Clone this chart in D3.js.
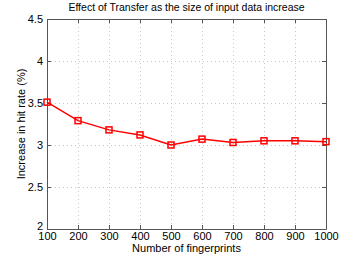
<!DOCTYPE html>
<html>
<head>
<meta charset="utf-8">
<script src="https://cdn.jsdelivr.net/npm/d3@7"></script>
<style>
  body { margin: 0; background: #fff; }
  text { font-family: "Liberation Sans", Arial, sans-serif; fill: #000; }
</style>
</head>
<body>
<svg width="360" height="258"></svg>
<script>
// data
var sizes = [100, 200, 300, 400, 500, 600, 700, 800, 900, 1000];
var hitRate = [3.51, 3.29, 3.18, 3.12, 3.00, 3.07, 3.03, 3.05, 3.05, 3.04];
var yTicks = [2, 2.5, 3, 3.5, 4, 4.5];
var xTicks = [100, 200, 300, 400, 500, 600, 700, 800, 900, 1000];

var margin = {top: 19, right: 34, bottom: 29, left: 47};
var width = 360 - margin.left - margin.right;
var height = 258 - margin.top - margin.bottom;

var svg = d3.select("svg");
var g = svg.append("g")
  .attr("transform", "translate(" + margin.left + "," + margin.top + ")");

var xScale = d3.scaleLinear().domain([100, 1000]).range([0, width]);
var yScale = d3.scaleLinear().domain([2, 4.5]).range([height, 0]);

// dotted grid
g.selectAll(".gx").data(xTicks.slice(1, -1)).enter().append("line")
  .attr("x1", d => xScale(d) + 0.5).attr("x2", d => xScale(d) + 0.5)
  .attr("y1", 0).attr("y2", height)
  .attr("stroke", "#c8c8c8").attr("stroke-dasharray", "1,3");
g.selectAll(".gy").data(yTicks.slice(1, -1)).enter().append("line")
  .attr("y1", d => yScale(d) + 0.5).attr("y2", d => yScale(d) + 0.5)
  .attr("x1", 0).attr("x2", width)
  .attr("stroke", "#c8c8c8").attr("stroke-dasharray", "1,3");

// axes, matlab style: ticks inside on every side
var tk = 4;
g.append("g").attr("transform", "translate(0," + height + ")")
  .call(d3.axisBottom(xScale).tickValues(xTicks).tickSize(-tk).tickPadding(3).tickSizeOuter(0)
    .tickFormat(d3.format("d")));
g.append("g")
  .call(d3.axisTop(xScale).tickValues(xTicks).tickSize(-tk).tickFormat("").tickSizeOuter(0));
var yAxisG = g.append("g")
  .call(d3.axisLeft(yScale).tickValues(yTicks).tickSize(-tk).tickPadding(4).tickSizeOuter(0)
    .tickFormat(d3.format("")));
g.append("g").attr("transform", "translate(" + width + ",0)")
  .call(d3.axisRight(yScale).tickValues(yTicks).tickSize(-tk).tickFormat("").tickSizeOuter(0));

g.selectAll(".domain").attr("stroke", "#555");
g.selectAll(".tick line").attr("stroke", "#555");
g.selectAll(".tick text").attr("font-size", 11).attr("font-family", "Liberation Sans, Arial, sans-serif").attr("fill", "#000");
// lowest y label sits a bit higher, like the original
yAxisG.selectAll(".tick text").filter(d => d === 2).attr("y", -3);

// line + square markers
var line = d3.line()
  .x((d, i) => xScale(sizes[i]))
  .y(d => yScale(d));

g.append("path")
  .datum(hitRate)
  .attr("d", line)
  .attr("fill", "none")
  .attr("stroke", "#ff0000")
  .attr("stroke-width", 1.5);

var s = 6;
g.selectAll(".dot").data(hitRate).enter().append("rect")
  .attr("x", (d, i) => xScale(sizes[i]) - s / 2)
  .attr("y", d => yScale(d) - s / 2)
  .attr("width", s).attr("height", s)
  .attr("fill", "none")
  .attr("stroke", "#ff0000")
  .attr("stroke-width", 1.5);

// labels
svg.append("text")
  .attr("x", margin.left + width / 2).attr("y", 11)
  .attr("text-anchor", "middle").attr("font-size", 10.5)
  .text("Effect of Transfer as the size of input data increase");

svg.append("text")
  .attr("x", margin.left + width / 2).attr("y", 252)
  .attr("text-anchor", "middle").attr("font-size", 11)
  .text("Number of fingerprints");

svg.append("text")
  .attr("transform", "translate(25," + (margin.top + height / 2) + ") rotate(-90)")
  .attr("text-anchor", "middle").attr("font-size", 11)
  .text("Increase in hit rate (%)");
</script>
</body>
</html>
